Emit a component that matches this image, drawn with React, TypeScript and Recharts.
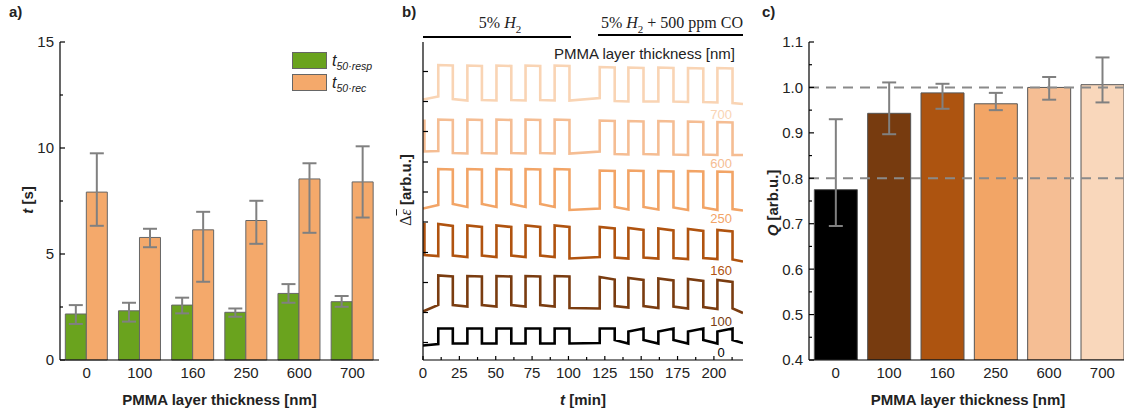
import React from 'react';
import {
  BarChart,
  Bar,
  LineChart,
  Line,
  XAxis,
  YAxis,
  ErrorBar,
  Cell,
  ReferenceLine,
  ReferenceDot,
} from 'recharts';

const FONT = '"Liberation Sans", Arial, sans-serif';
const SERIF = '"Liberation Serif", "Times New Roman", serif';
const TEXT = '#222';
const AXIS = { stroke: '#000', strokeWidth: 1.2 };

// PMMA layer thickness [nm], categories of panels a and c
const thickness = ['0', '100', '160', '250', '600', '700'];

// a) t50 response / recovery times [s], error bar ends [low, high]
const tResp = [2.17, 2.32, 2.59, 2.25, 3.14, 2.75];
const tRespRange = [[1.7, 2.59], [1.81, 2.7], [2.2, 2.94], [2.04, 2.43], [2.7, 3.58], [2.51, 3.02]];
const tRec = [7.92, 5.78, 6.14, 6.58, 8.54, 8.4];
const tRecRange = [[6.33, 9.75], [5.32, 6.19], [3.69, 6.99], [5.48, 7.51], [6.0, 9.28], [6.72, 10.08]];
const tTicks = [0, 2.5, 5, 7.5, 10, 12.5, 15];

// c) Q [arb.u.]
const qValues = [0.775, 0.943, 0.988, 0.964, 1.0, 1.006];
const qRange = [[0.695, 0.93], [0.897, 1.011], [0.953, 1.008], [0.95, 0.988], [0.973, 1.023], [0.967, 1.066]];
const qColors = ['#000000', '#773b0f', '#ad5410', '#f2a566', '#f5be94', '#f9d7bb'];
const qTicks = [0.4, 0.45, 0.5, 0.55, 0.6, 0.65, 0.7, 0.75, 0.8, 0.85, 0.9, 0.95, 1.0, 1.05, 1.1];

// b) gas pulse transients, time [min]
const timeTicks = [0, 12.5, 25, 37.5, 50, 62.5, 75, 87.5, 100, 112.5, 125, 137.5, 150, 162.5, 175, 187.5, 200, 212.5];
const riseT = [10.5, 30.5, 50.5, 70.5, 90.5, 121.5, 141.2, 161.8, 182.2, 202.4];
const fallT = [20.5, 40.5, 60.7, 80.6, 100.7, 131.8, 151.6, 172.2, 192.7, 212.8];
const levelTicks = [17.5, 47.5, 77.5, 107.5, 138, 168, 198, 228.5, 258.5, 288.5];

// signal levels (stacked, arb. units): low phases [start, end] x 11, high phases [start, end] x 10
const lo700 = [[260.5, 263.5], [261, 259.5], [260, 259.5], [260, 259.5], [260, 259.5], [259.5, 262], [259, 258.5], [258.5, 258.5], [258.5, 258], [258, 257.5], [257, 256]];
const hi700 = [[295, 294.5], [294.5, 294], [294.5, 294], [294.5, 294], [294.5, 294], [293, 292.5], [292.5, 292], [292.5, 292], [292, 291.5], [292, 291.5]];
const lo600 = [[208.5, 209], [207, 206.5], [207, 206.5], [207, 206.5], [207, 206.5], [206.5, 208.5], [206, 205.5], [206, 205.5], [205.5, 205], [205.5, 205], [205, 205]];
const hi600 = [[240.5, 240], [240.5, 240], [240.5, 240], [240.5, 240], [240.5, 240], [239.5, 239], [239, 238.5], [239, 238.5], [238.5, 238], [238, 237.5]];
const lo250 = [[151.5, 155], [156, 153], [156, 153], [156, 153], [156, 153], [150, 151.5], [153, 150.5], [153, 150.5], [152.5, 150], [152.5, 150], [151, 149.5]];
const hi250 = [[191, 190.5], [191, 190.5], [191, 190.5], [191, 190.5], [191, 190.5], [189.5, 189], [189.5, 189], [189, 188.5], [189, 188.5], [188.5, 188]];
const lo160 = [[105, 104], [104.5, 103], [104.5, 103], [104.5, 103], [104.5, 103], [101.5, 103], [102.5, 101.5], [102.5, 101.5], [102, 101], [102, 101], [100.5, 98.5]];
const hi160 = [[136, 134], [134.5, 133], [134.5, 133], [134.5, 133], [134.5, 133], [133, 131.5], [132, 130], [131.5, 129.5], [131, 129], [130, 128.5]];
const lo100 = [[48.5, 55], [55, 53.5], [55, 53.5], [55, 53.5], [55, 53.5], [52, 51.5], [54, 52.5], [54, 52], [53.5, 51.5], [53, 51], [51.5, 47]];
const hi100 = [[84.5, 83.5], [84, 83.5], [84, 83.5], [84, 83.5], [84, 83.5], [83, 80.5], [82, 80], [81.5, 79.5], [81, 79], [80, 78]];
const lo0 = [[14.5, 16], [16.5, 16.5], [16.5, 16.5], [16.5, 16.5], [16.5, 16.5], [16.5, 17], [20, 16.5], [20, 16.5], [20, 16.5], [20, 16.5], [20, 17]];
const hi0 = [[31.5, 31.5], [31.5, 31.5], [31.5, 31.5], [31.5, 31.5], [31.5, 31.5], [31.5, 31.5], [28.5, 31.5], [28.5, 31.5], [28.5, 31.5], [28.5, 31.5]];

const traceLabels = ['700', '600', '250', '160', '100', '0'];
const traceColors = ['#f9d4b4', '#f5bd93', '#f2a466', '#b0530f', '#7a3c10', '#000000'];
const traceLows = [lo700, lo600, lo250, lo160, lo100, lo0];
const traceHighs = [hi700, hi600, hi250, hi160, hi100, hi0];
const traceHeads: (number | null)[] = [null, 240.5, null, 137, null, null];
const traceLabelLevels = [246, 196.7, 141.7, 90, 38.3, 7.3];

const buildTrace = (lo: number[][], hi: number[][], head: number | null) => {
  const pts: { t: number; v: number }[] = [];
  const t0 = head != null ? 1 : 0;
  if (head != null) pts.push({ t: t0, v: head });
  pts.push({ t: t0, v: lo[0][0] });
  riseT.forEach((r, i) => {
    pts.push({ t: r, v: lo[i][1] });
    pts.push({ t: r, v: hi[i][0] });
    pts.push({ t: fallT[i], v: hi[i][1] });
    pts.push({ t: fallT[i], v: lo[i + 1][0] });
  });
  pts.push({ t: 220, v: lo[10][1] });
  return pts;
};

const dataA = thickness.map((k, i) => ({
  thickness: k,
  resp: tResp[i],
  respErr: [tResp[i] - tRespRange[i][0], tRespRange[i][1] - tResp[i]],
  rec: tRec[i],
  recErr: [tRec[i] - tRecRange[i][0], tRecRange[i][1] - tRec[i]],
}));

const dataC = thickness.map((k, i) => ({
  thickness: k,
  q: qValues[i],
  qErr: [qValues[i] - qRange[i][0], qRange[i][1] - qValues[i]],
}));

// inward ticks on a left axis, labels only on majors
const makeYTick = (isMajor: (v: number) => boolean, fmt: ((v: number) => string) | null) => (props: any) => {
  const { x, y, payload } = props;
  const major = isMajor(payload.value);
  return (
    <g>
      <line x1={x} x2={x + (major ? 5 : 3)} y1={y} y2={y} stroke="#000" strokeWidth={1.2} />
      {fmt && major && (
        <text x={x - 6} y={y} dy="0.36em" textAnchor="end" fontSize={15} fill={TEXT} fontFamily={FONT}>
          {fmt(payload.value)}
        </text>
      )}
    </g>
  );
};

const catTick = (props: any) => (
  <text x={props.x} y={props.y + 18} textAnchor="middle" fontSize={15} fill={TEXT} fontFamily={FONT}>
    {props.payload.value}
  </text>
);

const timeTick = (props: any) => {
  const { x, y, payload } = props;
  const major = payload.value % 25 === 0;
  return (
    <g>
      <line x1={x} x2={x} y1={y} y2={y - (major ? 4 : 3)} stroke="#000" strokeWidth={1.2} />
      {major && (
        <text x={x} y={y + 18} textAnchor="middle" fontSize={15} fill={TEXT} fontFamily={FONT}>
          {payload.value}
        </text>
      )}
    </g>
  );
};

const Abs = ({ x, y, rotate, style, children }: any) => (
  <div
    style={{
      position: 'absolute',
      left: x,
      top: y,
      transform: `translate(-50%, -50%)${rotate ? ' rotate(-90deg)' : ''}`,
      whiteSpace: 'nowrap',
      lineHeight: 1,
      ...style,
    }}
  >
    {children}
  </div>
);

const LegendItem = ({ color, sub, top }: { color: string; sub: string; top: number }) => (
  <div style={{ position: 'absolute', left: 292, top, height: 17, display: 'flex', alignItems: 'center' }}>
    <div style={{ width: 33, height: 15, background: color, border: '1px solid #666' }} />
    <span style={{ marginLeft: 5, fontStyle: 'italic', fontSize: 16, lineHeight: 1 }}>
      t<span style={{ fontSize: 10.5, position: 'relative', top: 4 }}>{sub}</span>
    </span>
  </div>
);

const bold = { fontWeight: 700, fontSize: 15 };

const App = () => (
  <div
    style={{
      position: 'fixed',
      left: 0,
      top: 0,
      width: 1124,
      height: 416,
      overflow: 'hidden',
      background: '#fff',
      fontFamily: FONT,
      color: TEXT,
    }}
  >
    {/* a) */}
    <div style={{ position: 'absolute', left: 0, top: 0 }}>
      <BarChart width={380} height={416} data={dataA} margin={{ top: 42, right: 1, bottom: 0, left: 0 }} barCategoryGap="10%" barGap={0}>
        <XAxis dataKey="thickness" height={56} interval={0} tickSize={0} tickMargin={0} tickLine={false} axisLine={AXIS} tick={catTick} />
        <XAxis xAxisId="top" dataKey="thickness" orientation="top" height={0} tick={false} tickLine={false} axisLine={AXIS} />
        <YAxis
          type="number"
          width={60}
          domain={[0, 15]}
          ticks={tTicks}
          interval={0}
          tickSize={0}
          tickMargin={0}
          tickLine={false}
          axisLine={AXIS}
          tick={makeYTick((v) => v % 5 === 0, (v) => String(v))}
        />
        <YAxis yAxisId="right" orientation="right" width={0} tick={false} tickLine={false} axisLine={AXIS} />
        <Bar dataKey="resp" fill="#6aa31e" stroke="#666" strokeWidth={1} isAnimationActive={false}>
          <ErrorBar dataKey="respErr" width={7} stroke="#808080" strokeWidth={2} />
        </Bar>
        <Bar dataKey="rec" fill="#f4a96b" stroke="#666" strokeWidth={1} isAnimationActive={false}>
          <ErrorBar dataKey="recErr" width={7} stroke="#808080" strokeWidth={2} />
        </Bar>
      </BarChart>
    </div>

    {/* b) */}
    <div style={{ position: 'absolute', left: 380, top: 0 }}>
      <LineChart width={380} height={416} margin={{ top: 42, right: 17, bottom: 0, left: 0 }}>
        <XAxis
          type="number"
          dataKey="t"
          domain={[0, 220]}
          ticks={timeTicks}
          interval={0}
          height={56}
          tickSize={0}
          tickMargin={0}
          tickLine={false}
          axisLine={AXIS}
          tick={timeTick}
          allowDataOverflow
        />
        <XAxis xAxisId="top" type="number" orientation="top" domain={[0, 220]} height={0} tick={false} tickLine={false} axisLine={AXIS} />
        <YAxis
          type="number"
          domain={[0, 318]}
          ticks={levelTicks}
          interval={0}
          width={43}
          tickSize={0}
          tickMargin={0}
          tickLine={false}
          axisLine={AXIS}
          tick={makeYTick(() => true, null)}
          allowDataOverflow
        />
        <YAxis yAxisId="right" orientation="right" width={0} tick={false} tickLine={false} axisLine={AXIS} />
        {traceLabels.map((lab, i) => (
          <Line
            key={lab}
            data={buildTrace(traceLows[i], traceHighs[i], traceHeads[i])}
            dataKey="v"
            type="linear"
            stroke={traceColors[i]}
            strokeWidth={2.6}
            dot={false}
            isAnimationActive={false}
          />
        ))}
        {traceLabels.map((lab, i) => (
          <ReferenceDot
            key={`l-${lab}`}
            x={205}
            y={traceLabelLevels[i]}
            r={0}
            fill="none"
            stroke="none"
            label={{ value: lab, position: 'center', fill: traceColors[i], fontSize: 13, fontFamily: FONT }}
          />
        ))}
      </LineChart>
    </div>

    {/* c) */}
    <div style={{ position: 'absolute', left: 760, top: 0 }}>
      <BarChart width={380} height={416} data={dataC} margin={{ top: 42, right: 11, bottom: 0, left: 0 }} barCategoryGap="10%">
        <XAxis dataKey="thickness" height={56} interval={0} tickSize={0} tickMargin={0} tickLine={false} axisLine={AXIS} tick={catTick} />
        <XAxis xAxisId="top" dataKey="thickness" orientation="top" height={0} tick={false} tickLine={false} axisLine={AXIS} />
        <YAxis
          type="number"
          width={49}
          domain={[0.4, 1.1]}
          ticks={qTicks}
          interval={0}
          tickSize={0}
          tickMargin={0}
          tickLine={false}
          axisLine={AXIS}
          allowDataOverflow
          tick={makeYTick((v) => Math.abs(v * 10 - Math.round(v * 10)) < 1e-6, (v) => v.toFixed(1))}
        />
        <Bar dataKey="q" stroke="#555" strokeWidth={1} isAnimationActive={false}>
          {qColors.map((c, i) => (
            <Cell key={i} fill={c} />
          ))}
          <ErrorBar dataKey="qErr" width={7} stroke="#808080" strokeWidth={2} />
        </Bar>
        <ReferenceLine y={1.0} stroke="#8a8a8a" strokeWidth={2} strokeDasharray="10 7" />
        <ReferenceLine y={0.8} stroke="#8a8a8a" strokeWidth={2} strokeDasharray="10 7" />
      </BarChart>
    </div>

    {/* panel letters */}
    <div style={{ position: 'absolute', left: 9, top: 4, ...bold, lineHeight: 1 }}>a)</div>
    <div style={{ position: 'absolute', left: 402, top: 4, ...bold, lineHeight: 1 }}>b)</div>
    <div style={{ position: 'absolute', left: 762, top: 4, ...bold, lineHeight: 1 }}>c)</div>

    {/* legend a */}
    <LegendItem color="#6aa31e" sub="50·resp" top={52} />
    <LegendItem color="#f4a96b" sub="50·rec" top={74} />

    {/* axis titles */}
    <Abs x={219.5} y={399} style={bold}>PMMA layer thickness [nm]</Abs>
    <Abs x={583} y={399} style={bold}>
      <i>t</i> [min]
    </Abs>
    <Abs x={968} y={399} style={bold}>PMMA layer thickness [nm]</Abs>
    <Abs x={27} y={200} rotate style={bold}>
      <i>t</i> [s]
    </Abs>
    <Abs x={406} y={190} rotate style={bold}>
      <span style={{ fontFamily: SERIF, fontWeight: 400, fontSize: 16 }}>
        Δ<i style={{ textDecoration: 'overline' }}>ε</i>
      </span>{' '}
      [arb.u.]
    </Abs>
    <Abs x={772} y={203} rotate style={bold}>
      <i>Q</i> [arb.u.]
    </Abs>

    {/* b) gas annotations */}
    <Abs x={500} y={25} style={{ fontFamily: SERIF, fontSize: 16 }}>
      5% <i>H</i>
      <sub style={{ fontSize: 11 }}>2</sub>
    </Abs>
    <div style={{ position: 'absolute', left: 423, top: 36, width: 148, height: 2, background: '#000' }} />
    <Abs x={672} y={25} style={{ fontFamily: SERIF, fontSize: 16 }}>
      5% <i>H</i>
      <sub style={{ fontSize: 11 }}>2</sub> + 500 ppm CO
    </Abs>
    <div style={{ position: 'absolute', left: 598, top: 34, width: 145, height: 2, background: '#000' }} />
    <div style={{ position: 'absolute', right: 1124 - 735, top: 46, fontSize: 15, lineHeight: 1 }}>
      PMMA layer thickness [nm]
    </div>
  </div>
);

export default App;
